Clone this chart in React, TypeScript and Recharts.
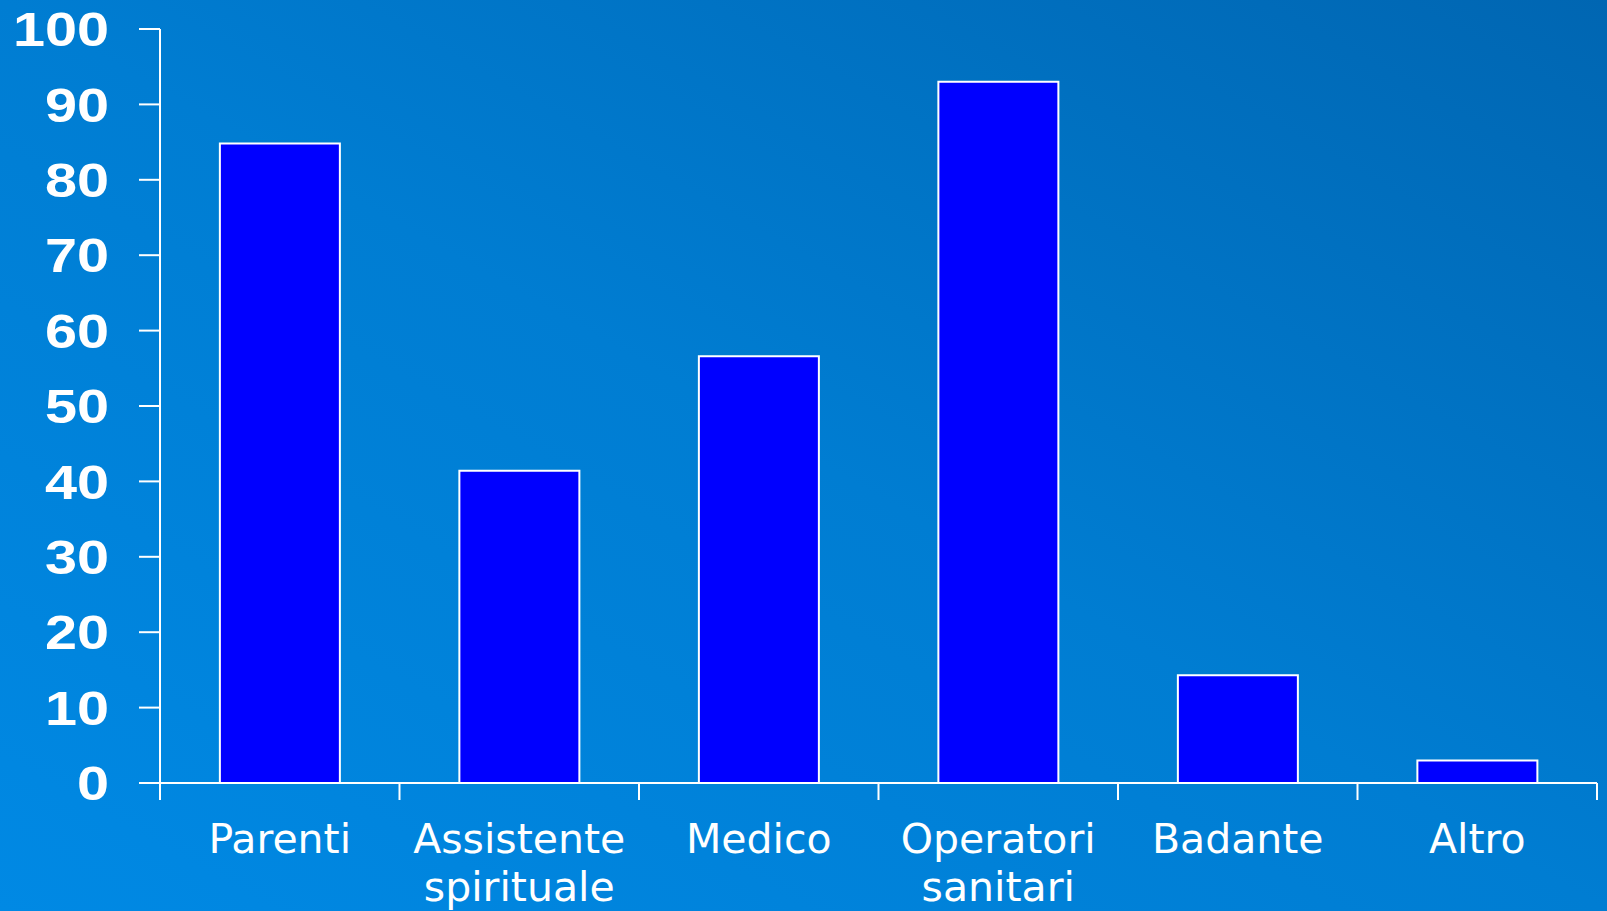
import { BarChart, Bar, XAxis, YAxis } from 'recharts';

const categories = ['Parenti', 'Assistente spirituale', 'Medico', 'Operatori sanitari', 'Badante', 'Altro'];
const values = [84.8, 41.4, 56.6, 93.0, 14.3, 3.0];
const yTicks = [0, 10, 20, 30, 40, 50, 60, 70, 80, 90, 100];

const data = categories.map((name, i) => ({ name, value: values[i] }));

const X_TICK = 17;

function YTick({ x, y, payload }: any) {
  return (
    <text
      x={x}
      y={y}
      dy="0.36em"
      textAnchor="end"
      fill="#fff"
      fontFamily="'Liberation Sans', Arial, sans-serif"
      fontWeight="bold"
      fontSize={48}
      transform={`translate(${x} ${y}) scale(1.2 1) translate(${-x} ${-y})`}
    >
      {payload.value}
    </text>
  );
}

function XTick({ x, y, payload, index, visibleTicksCount }: any) {
  const half = payload.offset ?? 0;
  const top = y - X_TICK;
  const lines = String(payload.value).split(' ');
  return (
    <g>
      <line x1={x - half} x2={x - half} y1={top} y2={y} stroke="#fff" strokeWidth={2} />
      {index === visibleTicksCount - 1 && (
        <line x1={x + half} x2={x + half} y1={top} y2={y} stroke="#fff" strokeWidth={2} />
      )}
      <text
        x={x}
        y={y}
        textAnchor="middle"
        fill="#fff"
        fontFamily="'DejaVu Sans', Verdana, sans-serif"
        fontSize={41}
      >
        {lines.map((l, i) => (
          <tspan key={i} x={x} dy={i === 0 ? 53 : 48}>{l}</tspan>
        ))}
      </text>
    </g>
  );
}

export default function App() {
  return (
    <div
      style={{
        position: 'absolute',
        left: 0,
        top: 0,
        width: 1607,
        height: 911,
        background: 'linear-gradient(to top right, #0089e4 0%, #007dd2 50%, #0066b2 100%)',
        overflow: 'hidden',
      }}
    >
      <BarChart
        width={1607}
        height={911}
        data={data}
        margin={{ top: 29, right: 10, bottom: 0, left: 0 }}
        barCategoryGap="25%"
      >
        <XAxis
          dataKey="name"
          height={128}
          interval={0}
          tickSize={X_TICK}
          tickMargin={0}
          tickLine={false}
          axisLine={{ stroke: '#fff', strokeWidth: 2 }}
          tick={<XTick />}
        />
        <YAxis
          width={160}
          domain={[0, 100]}
          ticks={yTicks}
          interval={0}
          tickSize={21}
          tickMargin={30}
          axisLine={{ stroke: '#fff', strokeWidth: 2 }}
          tickLine={{ stroke: '#fff', strokeWidth: 2 }}
          tick={<YTick />}
        />
        <Bar dataKey="value" fill="#0000ff" stroke="#ffffff" strokeWidth={2} isAnimationActive={false} />
      </BarChart>
    </div>
  );
}
